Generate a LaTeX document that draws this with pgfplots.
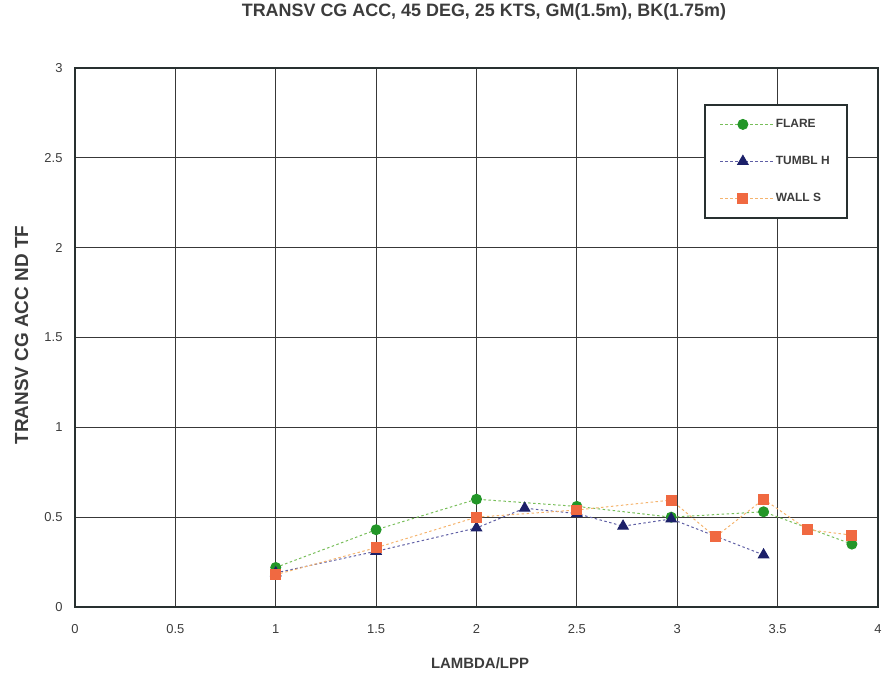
\documentclass[border=0pt]{standalone}
\usepackage{pgfplots}
\pgfplotsset{compat=1.18}
\usepackage{fontspec}
\setmainfont{Liberation Sans}
\definecolor{flare}{RGB}{35,150,40}
\definecolor{flarel}{RGB}{120,190,90}
\definecolor{tumbl}{RGB}{28,32,105}
\definecolor{tumbll}{RGB}{95,95,165}
\definecolor{wall}{RGB}{240,105,65}
\definecolor{walll}{RGB}{245,180,110}
\definecolor{txt}{RGB}{60,60,60}
\definecolor{frame}{RGB}{40,48,48}
\begin{document}
\begin{tikzpicture}
\path[use as bounding box] (-75bp,-67bp) rectangle (812bp,607bp);
\begin{axis}[
  scale only axis,
  width=803bp, height=539bp,
  xmin=0, xmax=4, ymin=0, ymax=3,
  xtick={0,0.5,...,4}, ytick={0,0.5,...,3},
  xticklabels={0,0.5,1,1.5,2,2.5,3,3.5,4},
  yticklabels={0,0.5,1,1.5,2,2.5,3},
  major tick length=0pt,
  grid=major,
  major grid style={black!78, line width=0.9pt},
  axis line style={frame, line width=2pt},
  tick label style={font=\fontsize{13}{14}\selectfont, text=txt},
  xticklabel style={yshift=-14bp},
  yticklabel style={xshift=-9bp},
  xlabel={\textbf{LAMBDA/LPP}},
  ylabel={\textbf{TRANSV CG ACC ND TF}},
  xlabel style={font=\fontsize{15}{17}\selectfont, text=txt,
    at={(axis description cs:0.5044,-0.1039)}, anchor=center},
  ylabel style={font=\fontsize{19}{21}\selectfont, text=txt,
    at={(axis description cs:-0.0666,0.5046)}, anchor=center},
  title={\textbf{TRANSV CG ACC, 45 DEG, 25 KTS, GM(1.5m), BK(1.75m)}},
  title style={font=\fontsize{18}{20}\selectfont, text=txt,
    at={(axis description cs:0.5093,1.0928)}, anchor=center},
  legend style={at={(axis description cs:0.7833,0.9332)}, anchor=north west,
    draw=frame, line width=1.8pt, font=\bfseries\fontsize{12}{13}\selectfont,
    text=txt, row sep=24bp, inner xsep=15bp, inner ysep=13bp,
    nodes={minimum height=13bp, inner ysep=0pt}},
  legend cell align=left,
  legend image code/.code={
    \path (0bp,0bp) -- (53bp,0bp);
    \draw[#1, mark repeat=2, mark phase=2] plot coordinates {(0bp,0bp) (22.5bp,0bp) (45bp,0bp)};
  },
]
\addplot[flarel, line width=1pt, dash pattern=on 2.5pt off 2.5pt,
  mark=*, mark size=5pt, mark options={solid, fill=flare, draw=flare}]
  coordinates {(1.0,0.22) (1.5,0.43) (2.0,0.60) (2.5,0.56) (2.97,0.50) (3.43,0.53) (3.87,0.35)};
\addlegendentry{FLARE}
\addplot[tumbll, line width=1pt, dash pattern=on 2.5pt off 2.5pt,
  mark=triangle*, mark size=6pt, mark options={solid, fill=tumbl, draw=tumbl}]
  coordinates {(1.0,0.19) (1.5,0.31) (2.0,0.44) (2.24,0.55) (2.5,0.52) (2.73,0.45) (2.97,0.49) (3.43,0.29)};
\addlegendentry{TUMBL H}
\addplot[walll, line width=1pt, dash pattern=on 2.5pt off 2.5pt,
  mark=square*, mark size=5pt, mark options={solid, fill=wall, draw=wall}]
  coordinates {(1.0,0.18) (1.5,0.33) (2.0,0.50) (2.5,0.54) (2.97,0.595) (3.19,0.39) (3.43,0.60) (3.65,0.43) (3.87,0.40)};
\addlegendentry{WALL S}
\end{axis}
\end{tikzpicture}
\end{document}
